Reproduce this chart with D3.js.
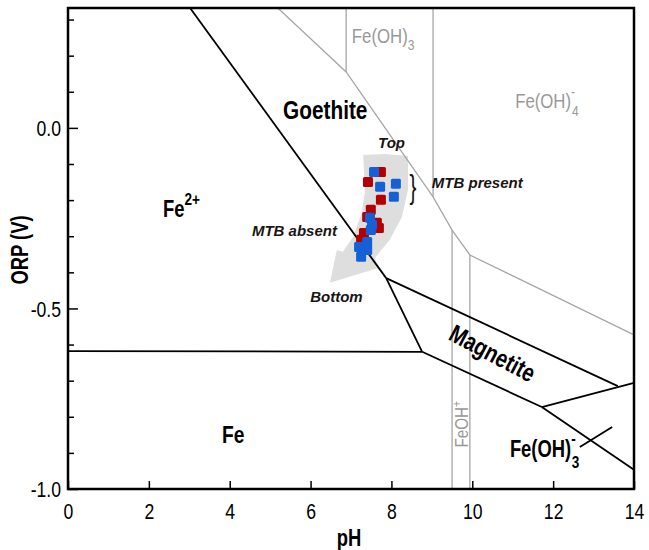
<!DOCTYPE html>
<html>
<head>
<meta charset="utf-8">
<script src="https://cdn.jsdelivr.net/npm/d3@7"></script>
<style>
  body { margin: 0; background: #fff; }
  svg text { font-family: "Liberation Sans", Arial, Helvetica, sans-serif; }
</style>
</head>
<body>
<svg id="chart" width="649" height="550"></svg>
<script>
// axis ticks
var xTicks = [0, 2, 4, 6, 8, 10, 12, 14];
var yTicks = [0.3, 0.2, 0.1, 0.0, -0.1, -0.2, -0.3, -0.4, -0.5, -0.6, -0.7, -0.8, -0.9, -1.0];
var yLabels = [0.0, -0.5, -1.0];

// stability field boundaries, [pH, ORP]
var fe2Goethite = [[3.02, 0.332], [7.87, -0.416]];
var fe2Magnetite = [[7.87, -0.416], [8.76, -0.620]];
var feFe2 = [[0, -0.618], [8.76, -0.620]];
var goethiteMagnetite = [[7.87, -0.416], [13.60, -0.715]];
var magnetiteFe = [[8.76, -0.620], [11.72, -0.773]];
var feFeOH3 = [[11.72, -0.773], [14, -0.947]];
var magnetiteFeOH3 = [[11.72, -0.773], [14, -0.706]];
var feOH3Tick = [[12.66, -0.884], [13.46, -0.828]];

// aqueous species boundaries (grey)
var fe3Upper = [[5.19, 0.332], [6.88, 0.155], [9.03, -0.191], [9.50, -0.283], [9.94, -0.352], [14, -0.573]];
var feOH3Left = [[6.88, 0.332], [6.88, 0.155]];
var feOH3Right = [[9.03, 0.332], [9.03, -0.191]];
var feOHLeft = [[9.50, -0.283], [9.50, -1.0]];
var feOHRight = [[9.94, -0.352], [9.94, -1.0]];

// samples
var redPH  = [7.74, 7.42, 7.74, 7.49, 7.40, 7.64, 7.69, 7.32, 7.25];
var redORP = [-0.122, -0.150, -0.199, -0.227, -0.247, -0.263, -0.277, -0.291, -0.310];
var bluePH  = [7.57, 7.72, 8.11, 8.06, 7.47, 7.52, 7.49, 7.40, 7.20, 7.40, 7.25];
var blueORP = [-0.122, -0.163, -0.155, -0.191, -0.249, -0.269, -0.283, -0.316, -0.330, -0.338, -0.357];

// depth arrow outline
var arrowShape = [[7.30, -0.075], [7.35, -0.172], [7.27, -0.235], [7.05, -0.302], [6.80, -0.343],
  [6.65, -0.338], [6.48, -0.429], [7.67, -0.388], [7.59, -0.360], [7.96, -0.310], [8.26, -0.247],
  [8.41, -0.172], [8.41, -0.078], [7.84, -0.072]];

var svg = d3.select("#chart");
var box = {left: 68, right: 634, top: 8, bottom: 489};
var sx = 0.8; // condensed look of the original type

var x = d3.scaleLinear().domain([0, 14]).range([box.left, box.right]);
var y = d3.scaleLinear().domain([-1.0, 0.332]).range([box.bottom, box.top]);

var line = d3.line().x(function(d){ return x(d[0]); }).y(function(d){ return y(d[1]); });

// arrow
svg.append("path")
  .attr("d", line.curve(d3.curveLinearClosed)(arrowShape))
  .attr("fill", "#dedede");
line.curve(d3.curveLinear);

// grey lines
[fe3Upper, feOH3Left, feOH3Right, feOHLeft, feOHRight].forEach(function(l){
  svg.append("path").attr("d", line(l)).attr("fill", "none")
    .attr("stroke", "#a6a6a6").attr("stroke-width", 1.3);
});

// black lines
[fe2Goethite, fe2Magnetite, feFe2, goethiteMagnetite, magnetiteFe, feFeOH3, magnetiteFeOH3, feOH3Tick].forEach(function(l){
  svg.append("path").attr("d", line(l)).attr("fill", "none")
    .attr("stroke", "#000").attr("stroke-width", 1.8);
});

// points
function drawSquares(ph, orp, color){
  svg.append("g").selectAll("rect")
    .data(ph.map(function(p, i){ return [p, orp[i]]; }))
    .enter().append("rect")
    .attr("x", function(d){ return x(d[0]) - 5; })
    .attr("y", function(d){ return y(d[1]) - 5; })
    .attr("width", 10).attr("height", 10).attr("rx", 1.5)
    .attr("fill", color);
}
drawSquares(redPH, redORP, "#b30000");
drawSquares(bluePH, blueORP, "#1560d6");

// axes
var xAxis = svg.append("g")
  .attr("transform", "translate(0," + box.bottom + ")")
  .call(d3.axisBottom(x).tickValues(xTicks).tickSize(-8).tickPadding(14).tickFormat(d3.format("d")));
xAxis.select(".domain").remove();
xAxis.selectAll("line").attr("stroke-width", 1.5);
xAxis.selectAll("text").attr("font-size", 22).attr("fill", "#000")
  .attr("transform", "scale(" + sx + ",1)");

var isLabel = function(d){ return yLabels.some(function(v){ return Math.abs(v - d) < 1e-9; }); };
var yAxis = svg.append("g")
  .attr("transform", "translate(" + box.left + ",0)")
  .call(d3.axisLeft(y).tickValues(yTicks).tickSize(0).tickFormat(""));
yAxis.select(".domain").remove();
yAxis.selectAll(".tick line")
  .attr("x2", function(d){ return isLabel(d) ? 10 : 6; })
  .attr("stroke-width", 1.5);
yAxis.selectAll(".tick").filter(isLabel)
  .append("text")
  .attr("transform", "translate(-7,0) scale(" + sx + ",1)")
  .attr("dy", "0.36em")
  .attr("text-anchor", "end")
  .attr("font-size", 22).attr("fill", "#000")
  .text(function(d){ return d3.format(".1f")(d).replace("\u2212", "-"); });

// frame
svg.append("rect").attr("x", box.left).attr("y", box.top)
  .attr("width", box.right - box.left).attr("height", box.bottom - box.top)
  .attr("fill", "none").attr("stroke", "#000").attr("stroke-width", 2.5);

// axis titles
svg.append("text").attr("transform", "translate(349,546) scale(" + sx + ",1)")
  .attr("text-anchor", "middle").attr("font-size", 23).attr("font-weight", "bold").text("pH");
svg.append("text").attr("transform", "translate(28,250) rotate(-90) scale(" + sx + ",1)")
  .attr("text-anchor", "middle").attr("font-size", 23).attr("font-weight", "bold").text("ORP (V)");

// field labels
function label(ph, orp, parts, size, color, weight, rot, anchor){
  var t = svg.append("text")
    .attr("transform", "translate(" + x(ph) + "," + y(orp) + ")" + (rot ? " rotate(" + rot + ")" : "") + " scale(" + sx + ",1)")
    .attr("font-size", size).attr("fill", color).attr("font-weight", weight)
    .attr("text-anchor", anchor || "start");
  parts.forEach(function(p){
    var s = t.append("tspan").text(p.t);
    if (p.dy) s.attr("dy", p.dy);
    if (p.dx) s.attr("dx", p.dx);
    if (p.s) s.attr("font-size", p.s);
  });
  return t;
}

label(5.32, 0.025, [{t: "Goethite"}], 26, "#000", "bold");
label(2.35, -0.247, [{t: "Fe"}, {t: "2+", s: 17, dy: -12}], 23, "#000", "bold");
label(3.81, -0.873, [{t: "Fe"}], 24, "#000", "bold");
label(10.93, -0.911, [{t: "Fe(OH)"}, {t: "-", s: 17, dy: -13}, {t: "3", s: 17, dx: -5, dy: 24}], 23, "#000", "bold");
label(10.40, -0.645, [{t: "Magnetite"}], 25, "#000", "bold", 28, "middle");
label(7.02, 0.235, [{t: "Fe(OH)"}, {t: "3", s: 15, dy: 7}], 21, "#999", "normal");
label(11.06, 0.055, [{t: "Fe(OH)"}, {t: "-", s: 15, dy: -11}, {t: "4", s: 15, dx: -4, dy: 19}], 21, "#999", "normal");
label(9.89, -0.885, [{t: "FeOH"}, {t: "+", s: 13, dy: -7}], 19, "#999", "normal", -90);

// annotations
function note(ph, orp, txt){
  svg.append("text").attr("x", x(ph)).attr("y", y(orp))
    .attr("font-size", 15).attr("font-weight", "bold").attr("font-style", "italic")
    .attr("fill", "#1a1414").text(txt);
}
note(7.67, -0.055, "Top");
note(9.00, -0.166, "MTB present");
note(4.55, -0.299, "MTB absent");
note(5.99, -0.482, "Bottom");
svg.append("text").attr("transform", "translate(" + x(8.45) + "," + y(-0.195) + ") scale(0.8,1.3)")
  .attr("font-size", 26).attr("fill", "#1a1414").text("}");
</script>
</body>
</html>
